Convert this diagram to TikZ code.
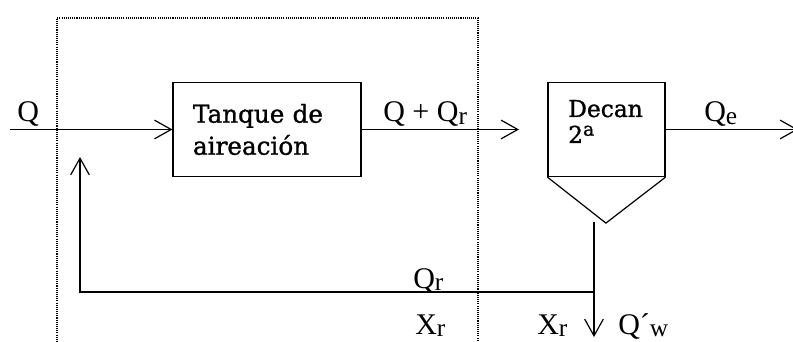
\documentclass[tikz,border=0pt]{standalone}
\usepackage{fontspec}
\setmainfont{Liberation Serif}
\newfontfamily\boxfont[FakeBold=1.2]{DejaVu Serif}
\usetikzlibrary{arrows.meta}
\newcommand{\dn}[1]{\raisebox{-2pt}{\fontsize{19}{19}\selectfont #1}}
\newcommand{\upa}[1]{\raisebox{5.5pt}{\fontsize{14}{14}\selectfont #1}}

\begin{document}
\begin{tikzpicture}[x=0.75pt,y=-0.75pt,
  flow/.style={-{Straight Barb[length=12.5pt,width=14pt]}, line width=0.9pt},
  pipe/.style={line width=0.9pt},
  unitbox/.style={draw, line width=0.9pt, rectangle},
  lbl/.style={anchor=base west, inner sep=0pt, font=\fontsize{22.5}{26}\selectfont},
  boxlbl/.style={anchor=base west, inner sep=0pt, font=\boxfont\fontsize{17.5}{20}\selectfont},
  frame/.style={line width=0.9pt, dash pattern=on 0.8pt off 0.8pt}]
\useasboundingbox (0,0) rectangle (793,342);

\draw[frame] (57,342) -- (57,18) -- (478,18) -- (478,342);

\node[unitbox, minimum width=141pt, minimum height=70pt, inner xsep=15pt,
  text width=111pt, align=left, font=\boxfont\fontsize{18.5}{24}\selectfont]
  (tank) at (267,129.5) {Tanque de\\aireación};
\node[unitbox, minimum width=87.75pt, minimum height=70.5pt] (decan) at (606.5,129.5) {};
\node[boxlbl] (decanA) at (568,117) {Decan};
\node[boxlbl] (decanB) at (568,143) {2\upa{a}};
\draw[pipe] (decan.south west) -- ++(58.5,46) -- (decan.south east);

\node[lbl] (qin) at (17,122) {Q};
\node[lbl] (qmix) at (383,122) {Q + Q\dn{r}};
\node[lbl] (qout) at (704,122) {Q\dn{e}};
\node[lbl] (qret) at (413,288) {Q\dn{r}};
\node[lbl] (xret) at (415,334) {X\dn{r}};
\node[lbl] (xwas) at (537,334) {X\dn{r}};
\node[lbl] (qwas) at (618,334) {Q´\dn{w}};

\coordinate (feed) at (10,129.5);
\coordinate (mixend) at (519,129.5);
\coordinate (effluent) at (798,129.5);
\coordinate (sludge) at (594,222);
\coordinate (split) at (594,292);
\coordinate (corner) at (80,292);
\coordinate (back) at (80,157);
\coordinate (waste) at (594,337);

\draw[flow] (feed) -- (tank);
\draw[flow] (tank) -- (mixend);
\draw[flow] (decan) -- (effluent);
\draw[flow] (sludge) -- (waste);
\draw[flow] (split) -- (corner) -- (back);
\end{tikzpicture}
\end{document}
